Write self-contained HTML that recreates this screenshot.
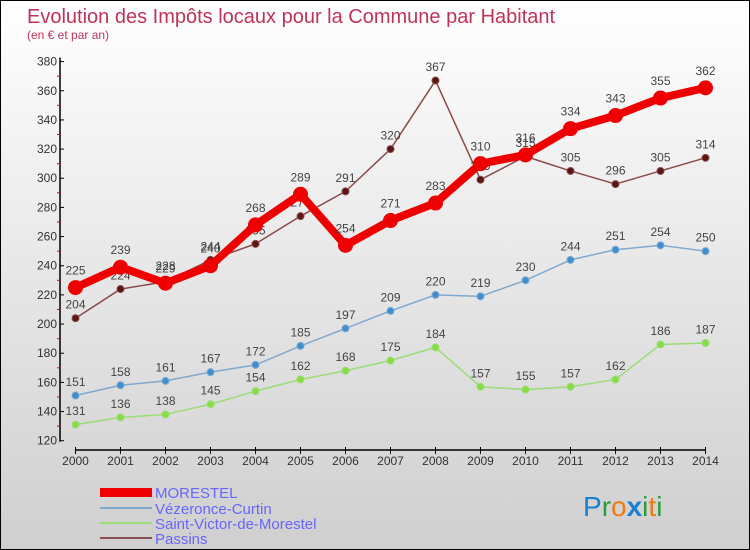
<!DOCTYPE html>
<html><head><meta charset="utf-8"><style>
body{margin:0;width:750px;height:550px;overflow:hidden;font-family:"Liberation Sans",sans-serif}
svg{display:block}
</style></head><body>
<svg id="chart" width="750" height="550" xmlns="http://www.w3.org/2000/svg">
<defs><linearGradient id="bg" x1="0" y1="0" x2="0" y2="1"><stop offset="0" stop-color="#ffffff"/><stop offset="1" stop-color="#cfcfcf"/></linearGradient></defs>
<rect x="0.5" y="0.5" width="749" height="549" fill="url(#bg)" stroke="#000"/>
<text x="27" y="23" font-size="20" fill="#c0325a">Evolution des Impôts locaux pour la Commune par Habitant</text>
<text x="27" y="39" font-size="12" fill="#c0325a">(en € et par an)</text>
<g id="axes"></g>
<g id="series"></g>
<g id="legend" font-size="15" fill="#6666ff">
<rect x="100" y="488" width="52" height="9" fill="#ee0000"/>
<text x="155" y="498">MORESTEL</text>
<line x1="100" y1="508" x2="152" y2="508" stroke="#7fa9cf" stroke-width="2"/>
<text x="155" y="514">Vézeronce-Curtin</text>
<line x1="100" y1="523" x2="152" y2="523" stroke="#99dd77" stroke-width="2"/>
<text x="155" y="529">Saint-Victor-de-Morestel</text>
<line x1="100" y1="538" x2="152" y2="538" stroke="#8b5050" stroke-width="2"/>
<text x="155" y="544">Passins</text>
</g>
<g font-size="28" font-family="'Liberation Sans',sans-serif">
<text x="583" y="516"><tspan fill="#1a7fd0">P</tspan><tspan fill="#2a9d3a">r</tspan><tspan fill="#f07a10">o</tspan><tspan fill="#1a7fd0" font-weight="bold">x</tspan><tspan fill="#2a9d3a">i</tspan><tspan fill="#f07a10">t</tspan><tspan fill="#2a9d3a">i</tspan></text>
</g>
</svg>
<script>
const years=[2000,2001,2002,2003,2004,2005,2006,2007,2008,2009,2010,2011,2012,2013,2014];
const yTicks=[120,140,160,180,200,220,240,260,280,300,320,340,360,380];
const morestel=[225,239,228,240,268,289,254,271,283,310,316,334,343,355,362];
const vezeronce=[151,158,161,167,172,185,197,209,220,219,230,244,251,254,250];
const saintVictor=[131,136,138,145,154,162,168,175,184,157,155,157,162,186,187];
const passins=[204,224,229,244,255,274,291,320,367,299,315,305,296,305,314];

const NS="http://www.w3.org/2000/svg";
const X0=75.5,X1=705.5,YB=440.7,YT=61.6,VMIN=120,VMAX=380,AXY=450,AXX=60;
function xs(i){return X0+(X1-X0)*i/(years.length-1);}
function ys(v){return YB-(v-VMIN)/(VMAX-VMIN)*(YB-YT);}
function mk(tag,attrs,parent){const e=document.createElementNS(NS,tag);for(const k in attrs)e.setAttribute(k,attrs[k]);parent.appendChild(e);return e;}
const ax=document.getElementById('axes');
let l=mk('line',{x1:AXX,y1:YT-4,x2:AXX,y2:YB+1,stroke:'#000','stroke-width':1.5},ax);


l=mk('line',{x1:X0,y1:AXY,x2:X1,y2:AXY,stroke:'#000','stroke-width':1.5},ax);


yTicks.forEach((v,i)=>{
  const y=ys(v);
  mk('line',{x1:AXX,y1:y,x2:AXX+4,y2:y,stroke:'#000'},ax);
  if(i<yTicks.length-1){mk('line',{x1:AXX-3,y1:ys(v+10),x2:AXX,y2:ys(v+10),stroke:'#e00'},ax);}
  const t=mk('text',{x:AXX-3,y:y+4,'font-size':12,fill:'#333','text-anchor':'end'},ax);
  t.textContent=v;
  
  
});
years.forEach((yr,i)=>{
  const x=xs(i);
  mk('line',{x1:x,y1:AXY-3,x2:x,y2:AXY+4,stroke:'#000'},ax);
  const t=mk('text',{x:x,y:AXY+15,'font-size':12,fill:'#333','text-anchor':'middle'},ax);
  t.textContent=yr;
  
  
});
const sg=document.getElementById('series');
function draw(name,vals,color,dot,lw,r){
  const g=mk('g',{},sg);
  
  
  const p=mk('polyline',{points:vals.map((v,i)=>xs(i)+','+ys(v)).join(' '),fill:'none',stroke:color,'stroke-width':lw,'stroke-linejoin':'round'},g);
  
  
  vals.forEach((v,i)=>{
    const c=mk('circle',{cx:xs(i),cy:ys(v),r:r,fill:dot,stroke:color,'stroke-width':1},g);
    
    
    const t=mk('text',{x:xs(i),y:ys(v)-(r+6),'font-size':12,fill:'#444','text-anchor':'middle'},g);
    t.textContent=v;
    
    
  });
}
draw('saint-victor',saintVictor,'#99dd77','#88dd44',1.5,3.5);
draw('vezeronce',vezeronce,'#7fa9cf','#3f8fd0',1.5,3.5);
draw('passins',passins,'#8b4a4a','#5a1515',1.5,3.5);
draw('morestel',morestel,'#ee0000','#ee0000',8,7);
</script>
</body></html>
